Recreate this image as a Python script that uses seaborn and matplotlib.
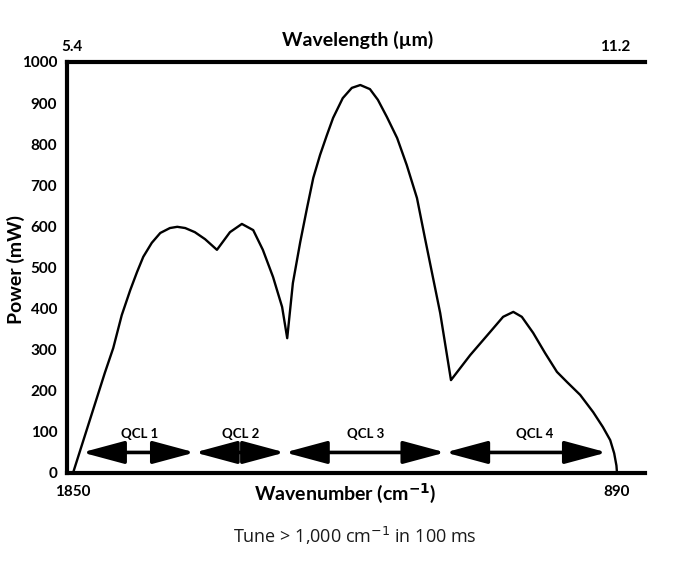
import numpy as np
import pandas as pd
import seaborn as sns
import matplotlib.pyplot as plt

# power curve
wavenumber = [1850, 1794, 1779, 1764, 1749, 1737, 1726, 1711, 1696, 1679, 1666,
              1652, 1635, 1617, 1596, 1573, 1552, 1532, 1515, 1497, 1481, 1472,
              1462, 1449, 1437, 1426, 1414, 1402, 1391, 1374, 1358, 1343, 1326,
              1312, 1296, 1278, 1261, 1243, 1229, 1202, 1183, 1149, 1114, 1091,
              1073, 1058, 1038, 1017, 996, 978, 955, 932, 915, 902, 895, 891, 890]
power = [0, 243, 304, 384, 445, 489, 526, 560, 584, 596, 599,
         596, 586, 569, 543, 586, 606, 591, 543, 477, 404, 328,
         462, 562, 645, 718, 774, 822, 864, 912, 937, 944, 934,
         908, 866, 815, 749, 669, 572, 389, 226, 287, 343, 380,
         392, 380, 341, 292, 246, 221, 190, 148, 112, 80, 48, 18, 0]

# tuning ranges of the four lasers
qcl_names = ["QCL 1", "QCL 2", "QCL 3", "QCL 4"]
qcl_start = [1834, 1635, 1476, 1193]
qcl_end = [1635, 1476, 1193, 908]
qcl_label_x = [1733, 1555, 1333, 1036]

df = pd.DataFrame({"wavenumber": wavenumber, "power": power})

sns.set_theme(style="white")
plt.rcParams["font.family"] = ["Lato", "DejaVu Sans"]
plt.rcParams["text.color"] = "black"
plt.rcParams["axes.labelcolor"] = "black"
plt.rcParams["xtick.color"] = "black"
plt.rcParams["ytick.color"] = "black"

fig = plt.figure(figsize=(6.87, 5.61), dpi=100)
ax = fig.add_axes([67 / 687, 88 / 561, 578 / 687, 411 / 561])

sns.lineplot(data=df, x="wavenumber", y="power", color="black", lw=1.7,
             solid_joinstyle="round", ax=ax)

for name, a, b, lx in zip(qcl_names, qcl_start, qcl_end, qcl_label_x):
    ax.annotate("", xy=(b, 50), xytext=(a, 50),
                arrowprops=dict(arrowstyle="<|-|>,head_length=1.3,head_width=0.35",
                                mutation_scale=20, color="black", lw=2.6,
                                shrinkA=0, shrinkB=0))
    ax.text(lx, 95, name, ha="center", va="center", fontsize=9.5,
            fontweight="bold", color="black")

ax.set_xlim(1860.6, 840.6)
ax.set_ylim(0, 1000)
ax.set_yticks(range(0, 1001, 100))
ax.set_yticklabels([str(v) for v in range(0, 1001, 100)])
ax.set_xticks([1850, 890])
ax.tick_params(axis="y", length=0, labelsize=11, pad=7)
ax.tick_params(axis="x", length=0, labelsize=11, pad=9)
for lab in ax.get_xticklabels() + ax.get_yticklabels():
    lab.set_fontweight("bold")

ax.spines["right"].set_visible(False)
for s in ["left", "top", "bottom"]:
    ax.spines[s].set_linewidth(3)
    ax.spines[s].set_color("black")

ax.set_xlabel("Wavenumber (cm$^{\\mathbf{-1}}$)", fontsize=14, fontweight="bold")
ax.xaxis.set_label_coords(0.481, -0.049)
ax.xaxis.label.set_verticalalignment("center")
ax.set_ylabel("Power (mW)", fontsize=14, fontweight="bold")
ax.yaxis.set_label_coords(-0.088, 0.494)
ax.yaxis.label.set_verticalalignment("center")

sec = ax.secondary_xaxis("top", functions=(lambda w: 1e4 / w, lambda l: 1e4 / l))
sec.set_xticks([5.4, 11.2])
sec.set_xticklabels(["5.4", "11.2"])
sec.tick_params(length=0, labelsize=11, pad=6)
for lab in sec.get_xticklabels():
    lab.set_fontweight("bold")
sec.spines["top"].set_visible(False)
sec.set_xlabel("Wavelength (µm)", fontsize=14, fontweight="bold")
sec.xaxis.set_label_coords(0.502, 1.053, transform=ax.transAxes)
sec.xaxis.label.set_verticalalignment("center")

fig.text(355 / 687, 1 - 536 / 561, "Tune > 1,000 cm$^{-1}$ in 100 ms",
         ha="center", va="center", fontsize=13, family="Open Sans",
         color="#1a1a1a")

fig.savefig("out.png", dpi=100)
